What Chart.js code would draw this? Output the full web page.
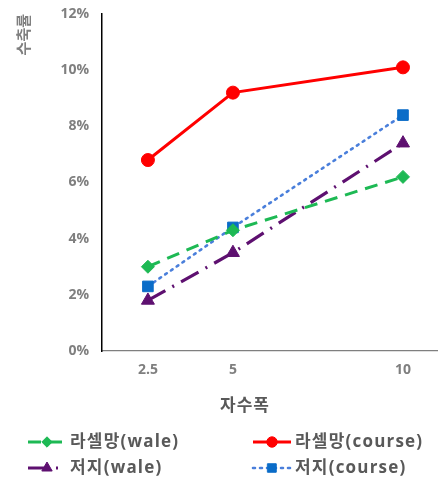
<!DOCTYPE html>
<html>
<head>
<meta charset="utf-8">
<script src="https://cdn.jsdelivr.net/npm/chart.js@4.4.1/dist/chart.umd.min.js"></script>
<style>
html,body{margin:0;padding:0;background:#fff;}
#wrap{position:relative;width:438px;height:478px;}
</style>
</head>
<body>
<div id="wrap"><canvas id="c" width="438" height="478"></canvas></div>
<script>
const xValues = [2.5, 5, 10];
const xTicks = [2.5, 5, 10];
const yTicks = [0, 2, 4, 6, 8, 10, 12];
const seriesNames = ['라셀망(wale)', '라셀망(course)', '저지(wale)', '저지(course)'];
const raschelWale = [3.0, 4.3, 6.2];
const raschelCourse = [6.8, 9.2, 10.1];
const jerseyWale = [1.8, 3.5, 7.4];
const jerseyCourse = [2.3, 4.4, 8.4];
const xTitle = '자수폭';
const yTitle = '수축률';

const FONT = "'Open Sans', 'Noto Sans CJK KR', sans-serif";
const pts = arr => arr.map((v, i) => ({x: xValues[i], y: v}));

const datasets = [
  {label: seriesNames[0], data: pts(raschelWale), borderColor: '#1DB954', backgroundColor: '#1DB954',
   borderWidth: 3, borderDash: [13, 8], pointStyle: 'rectRot', pointRadius: 6.5},
  {label: seriesNames[1], data: pts(raschelCourse), borderColor: '#FF0000', backgroundColor: '#FF0000',
   borderWidth: 3, borderDash: [], pointStyle: 'circle', pointRadius: 6.5},
  {label: seriesNames[2], data: pts(jerseyWale), borderColor: '#5E1070', backgroundColor: '#5E1070',
   borderWidth: 3.2, borderDash: [20, 8, 2, 8], pointStyle: 'triangle', pointRadius: 7.5},
  {label: seriesNames[3], data: pts(jerseyCourse), borderColor: '#4A7FDB', backgroundColor: '#0A6CC8',
   pointBorderColor: '#0A6CC8', borderWidth: 2.6, borderDash: [2, 5], borderCapStyle: 'round',
   pointStyle: 'rect', pointRadius: 7.5}
];
datasets.forEach(d => { d.fill = false; d.tension = 0; d.pointBorderWidth = 1; if (!d.pointBorderColor) d.pointBorderColor = d.borderColor; d.pointHoverRadius = d.pointRadius; });

const legendPlugin = {
  id: 'customLegend',
  afterDraw(chart) {
    const ctx = chart.ctx;
    // x axis title
    ctx.save();
    ctx.fillStyle = '#595959';
    ctx.font = 'bold 17px ' + FONT;
    ctx.letterSpacing = '1px';
    ctx.textAlign = 'center';
    ctx.textBaseline = 'middle';
    ctx.fillText(xTitle, 245, 406);
    ctx.restore();
    const pos = [[28, 442], [253, 442], [28, 468], [253, 468]];
    const sampleW = 38;
    chart.data.datasets.forEach((d, i) => {
      const [x, y] = pos[i];
      ctx.save();
      ctx.strokeStyle = d.borderColor;
      ctx.lineWidth = d.borderWidth;
      ctx.lineCap = d.borderCapStyle || 'butt';
      ctx.setLineDash(d.borderDash || []);
      ctx.beginPath();
      ctx.moveTo(x, y);
      ctx.lineTo(x + sampleW, y);
      ctx.stroke();
      ctx.setLineDash([]);
      ctx.fillStyle = d.backgroundColor;
      ctx.strokeStyle = d.pointBorderColor;
      ctx.lineWidth = 1;
      Chart.helpers.drawPoint(ctx, {pointStyle: d.pointStyle, radius: d.pointRadius * 0.8, rotation: 0, borderWidth: 1}, x + sampleW / 2, y);
      ctx.fillStyle = '#595959';
      ctx.font = 'bold 17px ' + FONT;
      ctx.letterSpacing = '1.2px';
      ctx.textBaseline = 'middle';
      ctx.textAlign = 'left';
      ctx.fillText(d.label, x + sampleW + 4, y);
      ctx.restore();
    });
  }
};

new Chart(document.getElementById('c'), {
  type: 'line',
  data: {datasets},
  options: {
    responsive: false,
    animation: false,
    devicePixelRatio: 1,
    layout: {autoPadding: false, padding: {top: 14, right: 1, left: 0, bottom: 67}},
    plugins: {legend: {display: false}, tooltip: {enabled: false}},
    scales: {
      x: {
        type: 'linear', min: 1.15, max: 11,
        afterBuildTicks: s => { s.ticks = xTicks.map(v => ({value: v})); },
        afterFit: s => { s.height = 60; s.paddingLeft = 0; s.paddingRight = 0; },
        grid: {display: false, drawTicks: false},
        border: {display: true, color: '#7f7f7f', width: 1.2},
        ticks: {padding: 11, color: '#7f7f7f', font: {family: FONT, size: 14, weight: 'bold'}, callback: v => String(v)}
      },
      y: {
        type: 'linear', min: 0, max: 12,
        afterBuildTicks: s => { s.ticks = yTicks.map(v => ({value: v})); },
        afterFit: s => { s.width = 102; s.paddingTop = 0; s.paddingBottom = 0; },
        grid: {display: false, drawTicks: false},
        border: {display: true, color: '#000000', width: 1.5},
        ticks: {padding: 13, color: '#7f7f7f', font: {family: FONT, size: 14, weight: 'bold'}, callback: v => v + '%'},
        title: {display: true, text: yTitle, align: 'end', color: '#7f7f7f', padding: {top: 14, bottom: 0}, font: {family: "'Noto Sans CJK KR', sans-serif", size: 15, weight: 'bold'}}
      }
    }
  },
  plugins: [legendPlugin]
});
</script>
</body>
</html>
